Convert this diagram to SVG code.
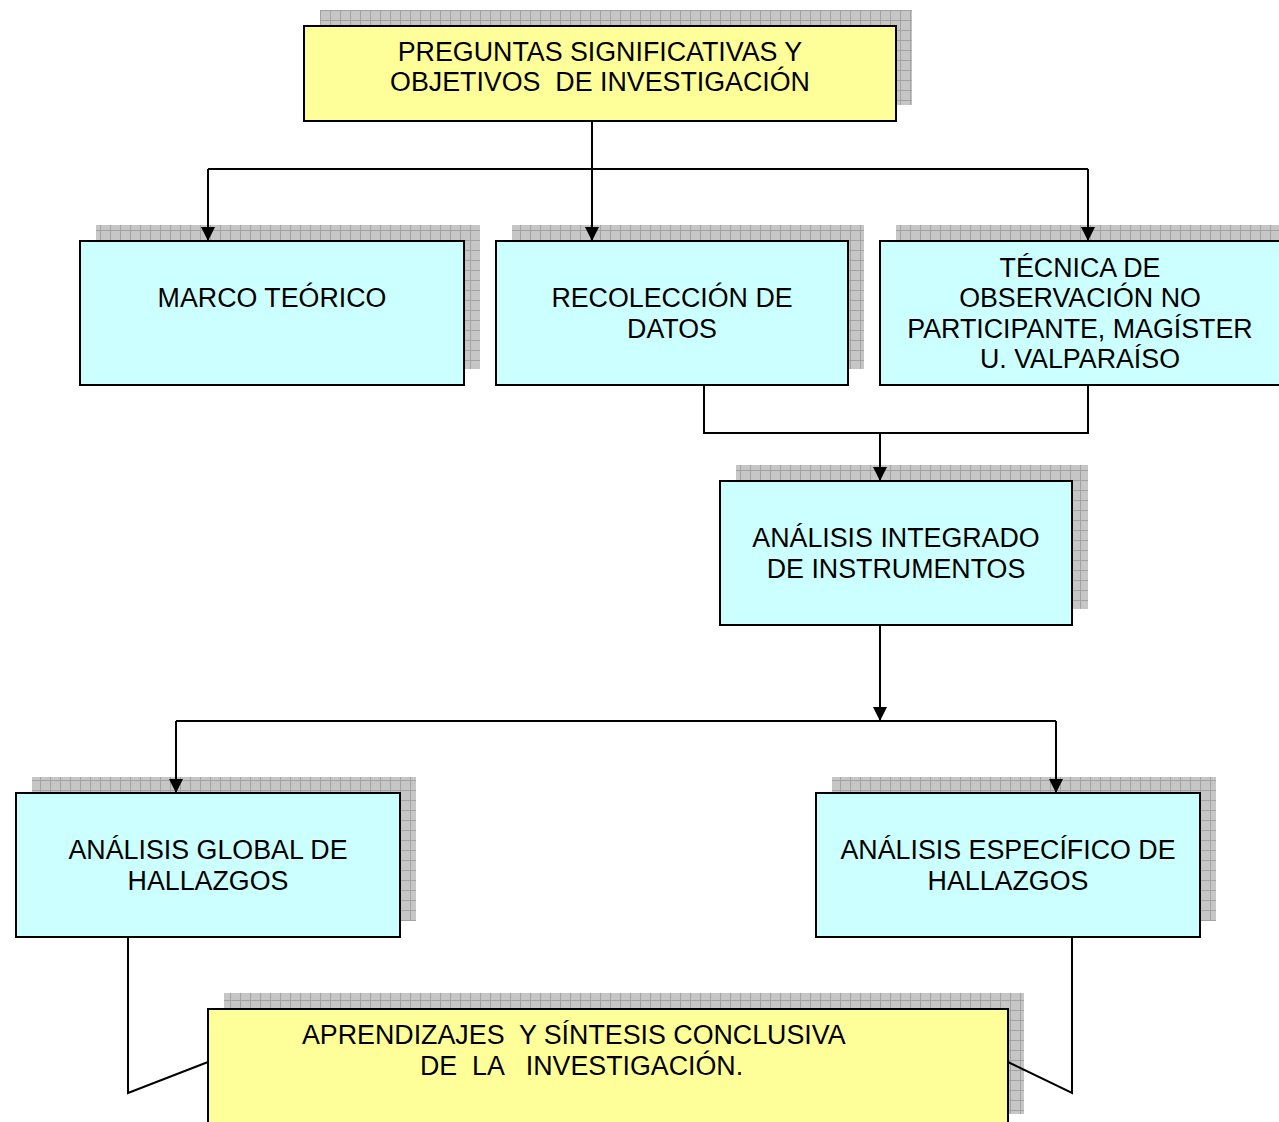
<svg xmlns="http://www.w3.org/2000/svg" width="1279" height="1122" viewBox="0 0 1279 1122">
<style>
.box{stroke:#000;stroke-width:2}
.y{fill:#ffff99}
.c{fill:#ccffff}
.sh{fill:url(#grid)}
.t{font-family:"Liberation Sans",Arial,sans-serif;font-size:26.8px;fill:#000;text-anchor:middle}
.ts{font-family:"Liberation Sans",Arial,sans-serif;font-size:26.8px;fill:#000}
.ln{fill:none;stroke:#000;stroke-width:2}
</style>
<defs>
<pattern id="grid" patternUnits="userSpaceOnUse" width="10" height="10">
<rect width="10" height="10" fill="#c6c6c6"/>
<path d="M0 0.5H10M0.5 0V10" stroke="#a2a2a2" stroke-width="1"/>
</pattern>
<marker id="arr" viewBox="0 0 14 14" refX="14" refY="7" markerWidth="14" markerHeight="14" markerUnits="userSpaceOnUse" orient="auto">
<path d="M0 0L14 7L0 14Z" fill="#000"/>
</marker>
</defs>
<g id="n-preguntas">
<rect class="sh" x="320" y="10" width="592" height="95"/>
<rect class="box y" x="304" y="26" width="592" height="95"/>
<text class="t" x="600" y="61" xml:space="preserve">PREGUNTAS SIGNIFICATIVAS Y</text>
<text class="t" x="600" y="91" xml:space="preserve">OBJETIVOS  DE INVESTIGACIÓN</text>
</g>
<g id="n-marco">
<rect class="sh" x="96" y="225" width="384" height="144"/>
<rect class="box c" x="80" y="241" width="384" height="144"/>
<text class="t" x="272" y="307">MARCO TEÓRICO</text>
</g>
<g id="n-recoleccion">
<rect class="sh" x="512" y="225" width="352" height="144"/>
<rect class="box c" x="496" y="241" width="352" height="144"/>
<text class="t" x="672" y="307">RECOLECCIÓN DE</text>
<text class="t" x="672" y="338">DATOS</text>
</g>
<g id="n-tecnica">
<rect class="sh" x="896" y="225" width="400" height="144"/>
<rect class="box c" x="880" y="241" width="400" height="144"/>
<text class="t" x="1080" y="277">TÉCNICA DE</text>
<text class="t" x="1080" y="307">OBSERVACIÓN NO</text>
<text class="t" x="1080" y="338">PARTICIPANTE, MAGÍSTER</text>
<text class="t" x="1080" y="368">U. VALPARAÍSO</text>
</g>
<g id="n-integrado">
<rect class="sh" x="736" y="465" width="352" height="144"/>
<rect class="box c" x="720" y="481" width="352" height="144"/>
<text class="t" x="896" y="547">ANÁLISIS INTEGRADO</text>
<text class="t" x="896" y="578">DE INSTRUMENTOS</text>
</g>
<g id="n-global">
<rect class="sh" x="32" y="777" width="384" height="144"/>
<rect class="box c" x="16" y="793" width="384" height="144"/>
<text class="t" x="208" y="859">ANÁLISIS GLOBAL DE</text>
<text class="t" x="208" y="890">HALLAZGOS</text>
</g>
<g id="n-especifico">
<rect class="sh" x="832" y="777" width="384" height="144"/>
<rect class="box c" x="816" y="793" width="384" height="144"/>
<text class="t" x="1008" y="859">ANÁLISIS ESPECÍFICO DE</text>
<text class="t" x="1008" y="890">HALLAZGOS</text>
</g>
<g id="n-aprendizajes">
<rect class="sh" x="224" y="993" width="800" height="121"/>
<rect class="box y" x="208" y="1009" width="800" height="130"/>
<text class="ts" x="302" y="1044" xml:space="preserve">APRENDIZAJES  Y SÍNTESIS CONCLUSIVA</text>
<text class="ts" x="420" y="1075" xml:space="preserve">DE  LA   INVESTIGACIÓN.</text>
</g>
<g id="connectors">
<path class="ln" d="M592 121V169"/>
<path class="ln" d="M208 169H1088"/>
<path class="ln" d="M208 169V241" marker-end="url(#arr)"/>
<path class="ln" d="M592 169V241" marker-end="url(#arr)"/>
<path class="ln" d="M1088 169V241" marker-end="url(#arr)"/>
<path class="ln" d="M704 385V433H1088V385"/>
<path class="ln" d="M880 433V481" marker-end="url(#arr)"/>
<path class="ln" d="M880 625V721" marker-end="url(#arr)"/>
<path class="ln" d="M176 721H1056"/>
<path class="ln" d="M176 721V793" marker-end="url(#arr)"/>
<path class="ln" d="M1056 721V793" marker-end="url(#arr)"/>
<path class="ln" d="M128 937V1093L208 1062"/>
<path class="ln" d="M1072 937V1093L1008 1062"/>
</g>
</svg>
